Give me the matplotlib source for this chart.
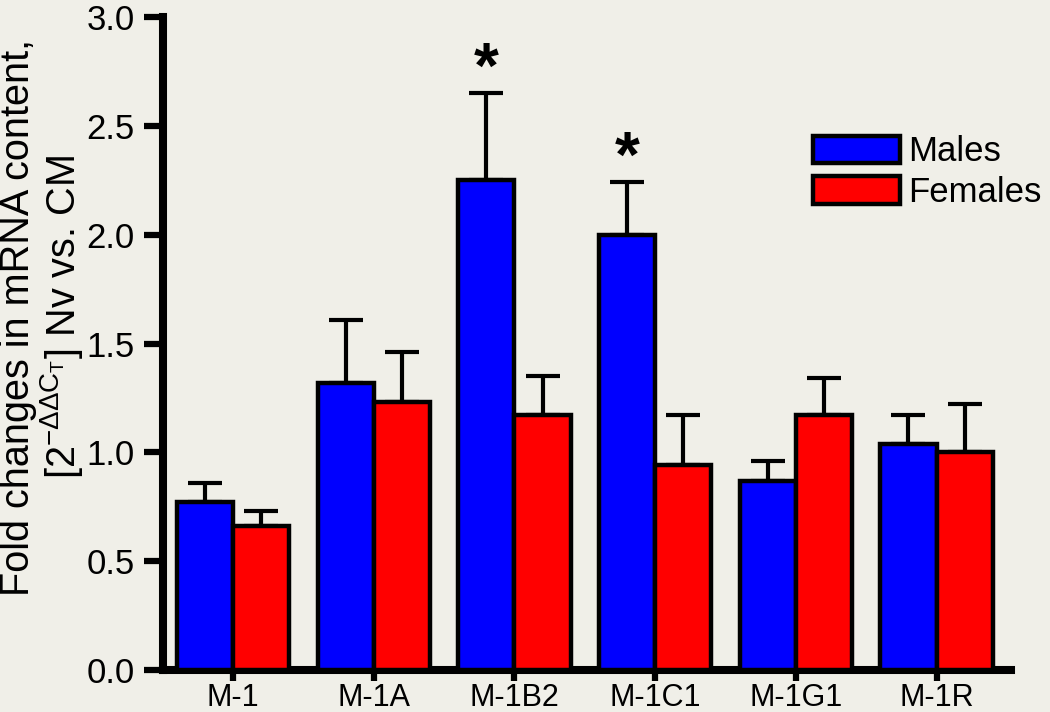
import matplotlib
matplotlib.use("Agg")
import matplotlib.pyplot as plt
import numpy as np
from matplotlib import font_manager

categories = ["M-1", "M-1A", "M-1B2", "M-1C1", "M-1G1", "M-1R"]
males = [0.77, 1.32, 2.25, 2.00, 0.87, 1.04]
males_err = [0.09, 0.29, 0.40, 0.24, 0.09, 0.13]
females = [0.66, 1.23, 1.17, 0.94, 1.17, 1.00]
females_err = [0.07, 0.23, 0.18, 0.23, 0.17, 0.22]
star_flags = [False, False, True, True, False, False]

BG = "#f0efe8"
avail = {f.name for f in font_manager.fontManager.ttflist}
base_font = "Liberation Sans" if "Liberation Sans" in avail else "DejaVu Sans"
plt.rcParams["font.family"] = [base_font, "DejaVu Sans"]
plt.rcParams["mathtext.fontset"] = "custom"
plt.rcParams["mathtext.rm"] = base_font
plt.rcParams["mathtext.it"] = base_font

fig = plt.figure(figsize=(10.5, 7.12), dpi=100, facecolor=BG)
ax = fig.add_axes([0.155, 0.059, 0.808, 0.917], facecolor=BG)

x = np.arange(len(categories))
w = 0.4
lw_edge = 3.2
ax.bar(x - w / 2, males, w, color="#0000ff", edgecolor="black", linewidth=lw_edge,
       label="Males", zorder=3)
ax.bar(x + w / 2, females, w, color="#ff0000", edgecolor="black", linewidth=lw_edge,
       label="Females", zorder=3)
ax.errorbar(x - w / 2, males, yerr=[np.zeros(len(males)), males_err], fmt="none",
            ecolor="black", elinewidth=3, capsize=12, capthick=3, zorder=2)
ax.errorbar(x + w / 2, females, yerr=[np.zeros(len(females)), females_err], fmt="none",
            ecolor="black", elinewidth=3, capsize=12, capthick=3, zorder=2)

for xi, m, e, f in zip(x, males, males_err, star_flags):
    if f:
        ax.text(xi - w / 2, m + e - 0.035, "*", ha="center", va="bottom",
                fontsize=46, fontweight="bold", color="black")

ax.set_xlim(-0.5, 5.53)
ax.set_ylim(0, 3.0)
ax.set_yticks([0.0, 0.5, 1.0, 1.5, 2.0, 2.5, 3.0])
ax.set_yticklabels(["0.0", "0.5", "1.0", "1.5", "2.0", "2.5", "3.0"])
ax.set_xticks(x)
ax.set_xticklabels(categories)

for s in ["top", "right"]:
    ax.spines[s].set_visible(False)
for s in ["left", "bottom"]:
    ax.spines[s].set_linewidth(5.8)
ax.tick_params(axis="y", length=14, width=4.5, labelsize=25, pad=6)
ax.tick_params(axis="x", length=8, width=4.5, labelsize=22, pad=1.5)

ax.set_ylabel("Fold changes in mRNA content,\n[2$^{-\\Delta\\Delta C_T}$] Nv vs. CM",
              fontsize=28.5, linespacing=1.02)
ax.yaxis.set_label_coords(-0.092, 0.54)

leg = ax.legend(loc="upper left", bbox_to_anchor=(0.75, 0.84), frameon=False,
                fontsize=25, handlelength=2.5, handleheight=0.85, handletextpad=0.25,
                labelspacing=0.22, borderaxespad=0)

fig.savefig("out.png", dpi=100, facecolor=BG)
